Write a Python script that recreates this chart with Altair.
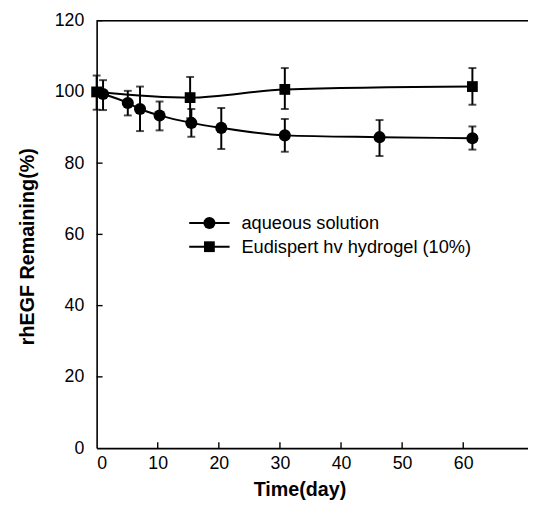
import altair as alt
import pandas as pd

# ---- data ----
aq_day = [1.05, 5.1, 7.1, 10.3, 15.5, 20.4, 30.8, 46.3, 61.5]
aq_val = [99.4, 96.9, 95.2, 93.4, 91.3, 89.9, 87.8, 87.3, 87.0]
aq_lo = [94.9, 93.4, 89.0, 89.2, 87.4, 84.0, 83.2, 82.0, 83.8]
aq_hi = [103.3, 100.3, 101.5, 97.3, 95.2, 95.5, 92.4, 92.1, 90.3]

gel_day = [0.0, 15.3, 30.8, 61.5]
gel_val = [100.0, 98.4, 100.7, 101.5]
gel_lo = [95.0, 92.6, 95.2, 96.4]
gel_hi = [104.6, 104.2, 106.7, 106.7]

legend_labels = ["aqueous solution", "Eudispert hv hydrogel (10%)"]
x_ticks = [0, 10, 20, 30, 40, 50, 60]
y_ticks = [0, 20, 40, 60, 80, 100, 120]

W, H = 438, 434
FONT = "Liberation Sans"

aq = pd.DataFrame({"day": aq_day, "val": aq_val, "lo": aq_lo, "hi": aq_hi})
gel = pd.DataFrame({"day": gel_day, "val": gel_val, "lo": gel_lo, "hi": gel_hi})

xs = alt.Scale(domain=[0, 70.6], nice=False, zero=False)
ys = alt.Scale(domain=[0, 120], nice=False)

x_axis = alt.Axis(values=x_ticks, ticks=False, grid=False, labelFontSize=18,
                  labelFont=FONT, labelColor="black", labelPadding=7,
                  domainColor="black", domainWidth=1.6,
                  title="Time(day)", titleFont=FONT, titleFontSize=20,
                  titleFontWeight="bold", titleColor="black",
                  titleX=206, titleY=42, titleBaseline="middle", titleAlign="center")
y_axis = alt.Axis(values=y_ticks, ticks=False, grid=False, labelFontSize=18,
                  labelFont=FONT, labelColor="black", labelPadding=13,
                  domainColor="black", domainWidth=1.6,
                  title="rhEGF Remaining(%)", titleFont=FONT, titleFontSize=20,
                  titleFontWeight="bold", titleColor="black",
                  titleAngle=270, titleX=-70, titleY=229,
                  titleBaseline="middle", titleAlign="center")


def X(f):
    return alt.X(f, scale=xs, axis=x_axis)


def Y(f):
    return alt.Y(f, scale=ys, axis=y_axis)


def series(df, shape, size):
    base = alt.Chart(df)
    line = base.mark_line(interpolate="monotone", color="black", strokeWidth=2).encode(
        x=X("day:Q"), y=Y("val:Q"))
    bars = base.mark_rule(color="black", strokeWidth=2).encode(
        x=X("day:Q"), y=Y("lo:Q"), y2="hi:Q")
    cap_lo = base.mark_tick(orient="horizontal", color="black", thickness=2, size=8).encode(
        x=X("day:Q"), y=Y("lo:Q"))
    cap_hi = base.mark_tick(orient="horizontal", color="black", thickness=2, size=8).encode(
        x=X("day:Q"), y=Y("hi:Q"))
    pts = base.mark_point(shape=shape, filled=True, color="black", opacity=1, size=size).encode(
        x=X("day:Q"), y=Y("val:Q"))
    return [line, bars, cap_lo, cap_hi, pts]


layers = series(aq, "circle", 150) + series(gel, "square", 120)

# inward axis ticks
yt = alt.Chart(pd.DataFrame({"v": y_ticks[1:]})).mark_rule(color="black", strokeWidth=1.4).encode(
    y=Y("v:Q"), x=alt.value(0), x2=alt.value(6))
xt = alt.Chart(pd.DataFrame({"v": x_ticks[1:]})).mark_rule(color="black", strokeWidth=1.4).encode(
    x=X("v:Q"), y=alt.value(H), y2=alt.value(H - 6))
# top frame line
top = alt.Chart(pd.DataFrame({"v": [120]})).mark_rule(color="black", strokeWidth=1.6).encode(
    y=Y("v:Q"), x=alt.value(0), x2=alt.value(W))

# manual legend
leg = []
rows = [(205.5, "circle", 150), (229.5, "square", 120)]
for lab, (ly, shp, sz) in zip(legend_labels, rows):
    d = alt.Data(values=[{"label": lab}])
    leg.append(alt.Chart(d).mark_rule(color="black", strokeWidth=2).encode(
        x=alt.value(94), x2=alt.value(135), y=alt.value(ly)))
    leg.append(alt.Chart(d).mark_point(shape=shp, filled=True, color="black", opacity=1, size=sz).encode(
        x=alt.value(114.5), y=alt.value(ly)))
    leg.append(alt.Chart(d).mark_text(align="left", baseline="middle", font=FONT, fontSize=18.5,
                                      color="black").encode(
        x=alt.value(147), y=alt.value(ly), text="label:N"))

chart = alt.layer(*layers, yt, xt, top, *leg).properties(
    width=W, height=H,
    autosize=alt.AutoSizeParams(type="none"),
    padding={"left": 90, "top": 9, "right": 0, "bottom": 60},
).configure_view(stroke=None).configure(background="white")

chart.save("out.html", embed_options={"renderer": "svg", "actions": False})
